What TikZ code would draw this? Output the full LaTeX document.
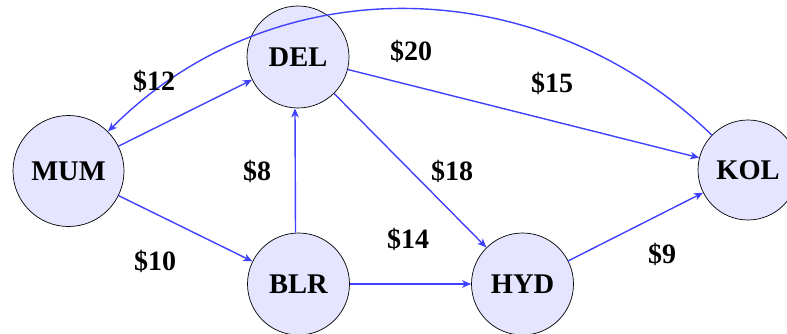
\documentclass[tikz,border=0pt]{standalone}
\usepackage{fontspec}
\setmainfont{Liberation Serif}
\usetikzlibrary{arrows.meta}
\begin{document}
\begin{tikzpicture}[x=1pt,y=-1pt,
  city/.style={circle,draw=black,line width=0.7pt,fill=blue!10,inner sep=0pt,
    font=\fontsize{28.5}{33}\selectfont\bfseries},
  route/.style={draw=blue!75,line width=1.4pt,-{Stealth[length=9pt,width=7.5pt,inset=2.5pt]}},
  cost/.style={font=\fontsize{28}{33}\selectfont\bfseries,inner sep=0pt}]
\useasboundingbox (0,0) rectangle (787,334);
\node[city,minimum size=111pt] (MUM) at (68.5,171) {MUM};
\node[city,minimum size=102pt] (DEL) at (298,57) {DEL};
\node[city,minimum size=102pt] (BLR) at (298.5,284) {BLR};
\node[city,minimum size=102pt] (HYD) at (522.5,284) {HYD};
\node[city,minimum size=100pt] (KOL) at (748,170) {KOL};
\draw[route] (MUM) -- (DEL);
\draw[route] (MUM) -- (BLR);
\draw[route] ([xshift=-3pt]BLR.north) -- ([xshift=-3pt]DEL.south);
\draw[route] (BLR) -- (HYD);
\draw[route] (DEL) -- (HYD);
\draw[route] (DEL) -- (KOL);
\draw[route] (HYD) -- (KOL);
\draw[route] (KOL.136) to[out=136,in=45,looseness=1.0] (MUM.45);
\node[cost] (c12) at (154,81) {\$12};
\node[cost] (c20) at (411,51) {\$20};
\node[cost] (c15) at (552,83) {\$15};
\node[cost] (c8) at (257,171) {\$8};
\node[cost] (c18) at (452,171) {\$18};
\node[cost] (c14) at (408,239) {\$14};
\node[cost] (c10) at (155,261) {\$10};
\node[cost] (c9) at (662,254) {\$9};
\end{tikzpicture}
\end{document}
